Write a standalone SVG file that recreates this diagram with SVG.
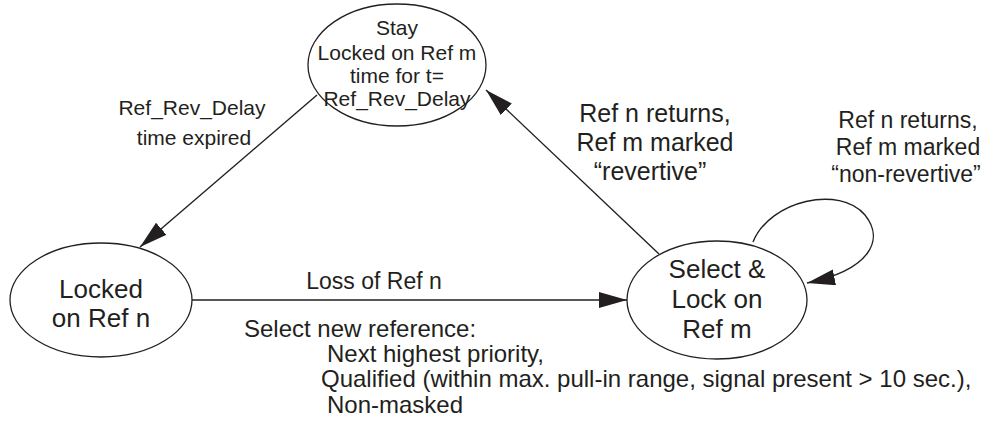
<svg xmlns="http://www.w3.org/2000/svg" width="995" height="423" viewBox="0 0 995 423">
<style>
.node{fill:#fff;stroke:#231f20;stroke-width:1.3}
.t{font-family:"Liberation Sans",Arial,sans-serif;fill:#231f20;text-anchor:middle}
.l{font-family:"Liberation Sans",Arial,sans-serif;fill:#231f20}
.c{fill:none;stroke:#231f20;stroke-width:1.4}
</style>
<defs>
<marker id="ah" markerUnits="userSpaceOnUse" markerWidth="30" markerHeight="18" refX="28" refY="8" orient="auto">
<path d="M0,0 L28,8 L0,16 Z" fill="#231f20"/>
</marker>
</defs>
<g id="connectors">
<line class="c" x1="317" y1="95" x2="140" y2="247" marker-end="url(#ah)"/>
<line class="c" x1="659" y1="254" x2="486" y2="90" marker-end="url(#ah)"/>
<line class="c" x1="192" y1="300" x2="627" y2="300" stroke-width="2" marker-end="url(#ah)"/>
<path class="c" d="M753,242 C770,200 840,185 865,215 C885,240 870,270 807,283" marker-end="url(#ah)"/>
</g>
<g id="stay">
<ellipse class="node" cx="397" cy="65" rx="89" ry="61"/>
<text class="t" font-size="21"><tspan x="397" y="35">Stay</tspan><tspan x="397" y="60">Locked on Ref m</tspan><tspan x="397" y="83">time for t=</tspan><tspan x="397" y="106">Ref_Rev_Delay</tspan></text>
</g>
<g id="lockedn">
<ellipse class="node" cx="101" cy="300" rx="91" ry="57"/>
<text class="t" font-size="26"><tspan x="101" y="298">Locked</tspan><tspan x="101" y="327">on Ref n</tspan></text>
</g>
<g id="selectm">
<ellipse class="node" cx="717" cy="300" rx="90" ry="59"/>
<text class="t" font-size="26"><tspan x="717" y="278">Select &amp;</tspan><tspan x="717" y="308">Lock on</tspan><tspan x="717" y="338">Ref m</tspan></text>
</g>
<g id="labels">
<text class="t" font-size="21"><tspan x="192" y="115">Ref_Rev_Delay</tspan><tspan x="194" y="145">time expired</tspan></text>
<text class="t" font-size="25"><tspan x="655" y="122">Ref n returns,</tspan><tspan x="655" y="151">Ref m marked</tspan><tspan x="650" y="180">“revertive”</tspan></text>
<text class="t" font-size="23"><tspan x="908" y="128">Ref n returns,</tspan><tspan x="908" y="155">Ref m marked</tspan><tspan x="906" y="182">“non-revertive”</tspan></text>
<text class="t" font-size="23" x="374" y="289">Loss of Ref n</text>
<text class="l" font-size="24"><tspan x="244" y="337">Select new reference:</tspan><tspan x="327" y="362">Next highest priority,</tspan><tspan x="321" y="387">Qualified (within max. pull-in range, signal present &gt; 10 sec.),</tspan><tspan x="327" y="413">Non-masked</tspan></text>
</g>
</svg>
